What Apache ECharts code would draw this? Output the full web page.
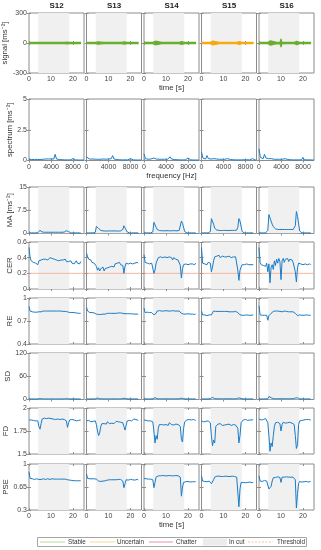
<!DOCTYPE html>
<html><head><meta charset="utf-8">
<script src="https://cdn.jsdelivr.net/npm/echarts@6/dist/echarts.min.js"></script>
<style>html,body{margin:0;padding:0;background:#fff}#c{width:321px;height:550px}</style>
</head><body><div id="c"></div>
<script>
// ---------------- DATA ----------------
const panelNames = ['S12','S13','S14','S15','S16'];
const panelState = ['Stable','Stable','Stable','Uncertain','Stable'];
const legendNames = ['Stable','Uncertain','Chatter','In cut','Threshold'];
const cutRange = [4.2, 18.3];
const cerThreshold = 0.2;
const timeTicks = [0,10,20];
const freqTicks = [0,4000,8000];
const yTicksSignal = [-300,0,300];
const yTicksSpec = [0,2.5,5];
const yTicksMA = [0,7.5,15];
const yTicksCER = [0,0.2,0.4,0.6];
const yTicksRE = [0.4,0.7,1];
const yTicksSD = [0,60,120];
const yTicksFD = [1.5,1.75,2];
const yTicksPSE = [0.3,0.65,1];

const tSec = [0,0.5,1,1.5,2,2.5,3,3.5, 4,4.5,5,5.5,6,6.5,7,7.5, 8,8.5,9,9.5,10,10.5,11,11.5,
  12,12.5,13,13.5,14,14.5,15,15.5, 16,16.5,17,17.5,18,18.5,19,19.5, 20,20.5,21,21.5,22,22.5,23,23.5];
const freqHz = [0,250,500,750,1000,1250,1500,1750,2000,2250,2500,2750,3000,3250,3500,3750,4000,4250,4500,4750,
  5000,5250,5500,5750,6000,6250,6500,6750,7000,7250,7500,7750,8000,8250,8500,8750,9000,9250,9500,9750,10000];

// signal envelope (half-width, ms^-2)
const sigT = [0,2,4,4.4,4.8,5.2,5.6,6,8,9.6,10,10.4,12,16,16.8,17.2,17.6,18,18.4,20,22,23.7];
const sigS12 = [6,6,6,6,9,7,6,6,6,6,6,6,6,6,7,9,8,6,6,6,6,6];
const sigS13 = [6,6,6,8,14,12,8,7,6,6,6,6,6,6,9,12,11,7,6,6,6,6];
const sigS14 = [6,6,6,10,20,18,12,8,7,7,7,7,7,7,10,14,12,8,6,6,6,6];
const sigS15 = [6,6,6,12,22,20,14,9,7,7,7,7,7,7,11,15,13,8,6,6,6,6];
const sigS16 = [6,6,6,12,24,22,15,9,7,9,40,9,7,7,12,16,15,9,6,6,6,6];

const spS12 = [0.1,0.08,0.08,0.07,0.08,0.07,0.09,0.08,0.07,0.08,0.1,0.09,0.12,0.15,0.13,0.17,0.12,0.1,0.12,0.5,0.12,0.1,0.08,0.07,0.06,0.05,0.05,0.05,0.05,0.06,0.05,0.06,0.15,0.06,0.05,0.05,0.04,0.04,0.04,0.04,0.04];
const spS13 = [0.3,0.15,0.12,0.1,0.12,0.1,0.11,0.12,0.1,0.15,0.1,0.1,0.12,0.1,0.11,0.1,0.12,0.1,0.15,0.4,0.12,0.1,0.08,0.07,0.06,0.06,0.05,0.05,0.05,0.05,0.05,0.06,0.15,0.06,0.05,0.05,0.04,0.04,0.04,0.04,0.04];
const spS14 = [0.55,0.15,0.12,0.1,0.25,0.12,0.1,0.2,0.25,0.12,0.25,0.1,0.12,0.1,0.2,0.1,0.12,0.1,0.15,0.3,0.12,0.1,0.08,0.07,0.06,0.06,0.05,0.05,0.05,0.05,0.05,0.06,0.2,0.06,0.05,0.05,0.04,0.04,0.04,0.04,0.04];
const spS15 = [0.7,0.2,0.15,0.12,0.4,0.15,0.25,0.12,0.2,0.15,0.1,0.12,0.15,0.1,0.12,0.1,0.1,0.1,0.12,0.15,0.1,0.08,0.07,0.06,0.06,0.05,0.05,0.05,0.05,0.05,0.05,0.06,0.2,0.06,0.05,0.05,0.05,0.15,0.05,0.04,0.04];
const spS16 = [0.95,0.25,0.2,0.15,0.5,0.2,0.3,0.15,0.2,0.15,0.12,0.1,0.12,0.1,0.15,0.1,0.1,0.1,0.12,0.15,0.1,0.08,0.07,0.06,0.06,0.05,0.05,0.05,0.05,0.05,0.05,0.06,0.25,0.06,0.05,0.05,0.05,0.05,0.05,0.04,0.04];

const maS12 = [0.2,0.2,0.2,0.2,0.2,0.2,0.2,0.2, 0.3,0.8,1.0,0.7,0.5,0.45,0.4,0.4, 0.4,0.4,0.4,0.4,0.4,0.4,0.4,0.4,
  0.4,0.4,0.4,0.4,0.4,0.4,0.4,0.4, 0.45,0.6,0.9,1.0,0.6,0.3,0.2,0.2, 0.2,0.2,0.2,0.2,0.2,0.2,0.2,0.2];
const maS13 = [0.2,0.2,0.2,0.2,0.2,0.2,0.2,0.2, 0.4,2.3,2.0,1.6,1.2,1.0,0.9,0.85, 0.85,0.8,0.85,0.8,0.8,0.85,0.8,0.8,
  0.8,0.85,0.8,0.8,0.85,0.8,0.8,0.85, 0.9,1.3,2.5,1.8,2.2,0.5,0.25,0.2, 0.2,0.2,0.2,0.2,0.2,0.2,0.2,0.2];
const maS14 = [0.2,0.2,0.2,0.2,0.2,0.2,0.2,0.2, 0.5,3.6,3.2,2.0,1.3,1.0,0.95,0.9, 0.9,0.9,0.85,0.9,0.9,0.85,0.9,0.9,
  0.85,0.9,0.9,0.85,0.9,0.9,0.85,0.9, 1.0,1.6,4.0,3.3,3.0,0.6,0.25,0.2, 0.2,0.2,0.2,0.2,0.2,0.2,0.2,0.2];
const maS15 = [0.2,0.2,0.2,0.2,0.2,0.2,0.2,0.2, 0.6,4.8,4.2,3.0,1.7,1.3,1.1,1.0, 1.0,1.0,0.95,1.0,1.0,0.95,1.0,1.0,
  0.95,1.0,1.0,0.95,1.0,1.0,1.0,0.95, 1.1,2.0,4.8,4.0,3.5,0.6,0.25,0.2, 0.2,0.2,0.2,0.2,0.2,0.2,0.2,0.2];
const maS16 = [0.2,0.2,0.2,0.2,0.2,0.2,0.2,0.2, 1.0,6.1,5.5,4.0,3.0,2.2,1.8,1.5, 1.4,1.3,1.3,1.3,1.35,1.3,1.3,1.3,
  1.3,1.3,1.3,1.3,1.3,1.3,1.3,1.3, 1.4,2.5,7.1,5.5,5.0,0.8,0.25,0.2, 0.2,0.2,0.2,0.2,0.2,0.2,0.2,0.2];

const cerS12 = [0.53,0.40,0.36,0.35,0.34,0.36,0.33,0.35, 0.31,0.36,0.38,0.37,0.39,0.38,0.40,0.38, 0.39,0.37,0.39,0.40,0.38,0.39,0.37,0.38,
  0.39,0.37,0.38,0.36,0.38,0.37,0.35,0.37, 0.36,0.38,0.35,0.37,0.35,0.34,0.36,0.33, 0.35,0.32,0.34,0.36,0.33,0.35,0.32,0.35];
const cerS13 = [0.46,0.41,0.38,0.36,0.37,0.34,0.35,0.33, 0.34,0.29,0.24,0.27,0.23,0.26,0.24,0.28, 0.23,0.26,0.24,0.27,0.25,0.28,0.26,0.29,
  0.31,0.28,0.32,0.30,0.33,0.31,0.34,0.31, 0.33,0.30,0.20,0.29,0.33,0.35,0.32,0.34, 0.33,0.35,0.32,0.34,0.33,0.31,0.34,0.33];
const cerS14 = [0.44,0.34,0.35,0.33,0.34,0.32,0.34,0.33, 0.31,0.20,0.24,0.33,0.34,0.40,0.38,0.41, 0.39,0.40,0.38,0.41,0.39,0.40,0.38,0.41,
  0.39,0.40,0.37,0.40,0.39,0.38,0.40,0.37, 0.38,0.30,0.14,0.26,0.31,0.33,0.32,0.34, 0.31,0.33,0.32,0.34,0.32,0.33,0.31,0.33];
const cerS15 = [0.53,0.33,0.34,0.32,0.33,0.31,0.34,0.32, 0.33,0.22,0.28,0.36,0.41,0.40,0.42,0.41, 0.43,0.40,0.41,0.42,0.40,0.41,0.43,0.41,
  0.40,0.42,0.41,0.40,0.42,0.41,0.40,0.41, 0.39,0.24,0.11,0.24,0.28,0.31,0.29,0.31, 0.30,0.32,0.30,0.31,0.29,0.31,0.30,0.31];
const cerS16 = [0.53,0.34,0.31,0.32,0.30,0.31,0.29,0.33, 0.22,0.32,0.08,0.28,0.31,0.25,0.36,0.30, 0.38,0.33,0.39,0.35,0.12,0.36,0.39,0.34,
  0.38,0.36,0.39,0.35,0.38,0.36,0.37,0.34, 0.36,0.22,0.09,0.27,0.33,0.34,0.32,0.33, 0.31,0.33,0.32,0.34,0.31,0.33,0.32,0.31];

const reS12 = [0.89,0.83,0.82,0.82,0.82,0.815,0.82,0.815, 0.82,0.82,0.825,0.82,0.825,0.83,0.825,0.83, 0.825,0.83,0.825,0.83,0.825,0.83,0.825,0.83,
  0.825,0.83,0.825,0.83,0.825,0.83,0.825,0.825, 0.82,0.825,0.82,0.82,0.815,0.81,0.815,0.81, 0.805,0.81,0.80,0.805,0.80,0.80,0.795,0.80];
const reS13 = [0.88,0.83,0.81,0.81,0.815,0.81,0.81,0.805, 0.81,0.79,0.78,0.785,0.78,0.785,0.78,0.79, 0.785,0.79,0.795,0.80,0.795,0.80,0.805,0.80,
  0.805,0.80,0.805,0.80,0.81,0.805,0.80,0.805, 0.80,0.80,0.79,0.795,0.80,0.795,0.79,0.795, 0.79,0.795,0.79,0.79,0.795,0.79,0.79,0.79];
const reS14 = [0.87,0.81,0.81,0.815,0.81,0.81,0.815,0.81, 0.80,0.78,0.78,0.80,0.83,0.83,0.835,0.83, 0.83,0.835,0.83,0.83,0.835,0.83,0.83,0.835,
  0.83,0.83,0.835,0.83,0.83,0.835,0.83,0.83, 0.83,0.82,0.80,0.79,0.79,0.795,0.79,0.79, 0.795,0.79,0.79,0.785,0.79,0.79,0.785,0.79];
const reS15 = [0.83,0.78,0.775,0.78,0.775,0.77,0.775,0.78, 0.775,0.78,0.80,0.83,0.83,0.825,0.83,0.825, 0.83,0.825,0.82,0.825,0.83,0.825,0.82,0.825,
  0.825,0.82,0.825,0.82,0.825,0.82,0.82,0.825, 0.82,0.81,0.79,0.78,0.775,0.775,0.78,0.775, 0.775,0.78,0.775,0.775,0.78,0.775,0.775,0.78];
const reS16 = [0.90,0.78,0.77,0.775,0.77,0.775,0.77,0.775, 0.71,0.77,0.76,0.80,0.81,0.825,0.82,0.83, 0.825,0.83,0.82,0.825,0.83,0.82,0.825,0.83,
  0.82,0.825,0.83,0.82,0.825,0.82,0.825,0.82, 0.82,0.80,0.78,0.77,0.775,0.78,0.775,0.775, 0.78,0.775,0.775,0.78,0.775,0.775,0.77,0.775];

const sdS12 = [1.5,1.5,1.5,1.5,1.5,1.5,1.5,1.5, 1.6,2.5,2.2,1.8,1.6,1.5,1.5,1.5, 1.5,1.5,1.5,1.5,1.5,1.5,1.5,1.5,
  1.5,1.5,1.5,1.5,1.5,1.5,1.5,1.5, 1.5,1.8,2.3,2.0,1.6,1.5,1.5,1.5, 1.5,1.5,1.5,1.5,1.5,1.5,1.5,1.5];
const sdS13 = [1.5,1.5,1.5,1.5,1.5,1.5,1.5,1.5, 1.8,4.3,3.8,2.5,1.9,1.7,1.6,1.6, 1.6,1.6,1.6,1.6,1.6,1.6,1.6,1.6,
  1.6,1.6,1.6,1.6,1.6,1.6,1.6,1.6, 1.7,2.4,3.2,2.6,2.0,1.6,1.5,1.5, 1.5,1.5,1.5,1.5,1.5,1.5,1.5,1.5];
const sdS14 = [1.5,1.5,1.5,1.5,1.5,1.5,1.5,1.5, 2.0,5.2,4.6,3.0,2.1,1.8,1.7,1.7, 1.7,1.7,1.7,1.7,1.7,1.7,1.7,1.7,
  1.7,1.7,1.7,1.7,1.7,1.7,1.7,1.7, 1.8,2.6,3.4,2.8,2.2,1.6,1.5,1.5, 1.5,1.5,1.5,1.5,1.5,1.5,1.5,1.5];
const sdS15 = [1.5,1.5,1.5,1.5,1.5,1.5,1.5,1.5, 2.2,6.0,5.3,3.4,2.3,1.9,1.8,1.8, 1.8,1.8,1.8,1.8,1.8,1.8,1.8,1.8,
  1.8,1.8,1.8,1.8,1.8,1.8,1.8,1.8, 1.9,3.2,4.3,3.6,2.6,1.6,1.5,1.5, 1.5,1.5,1.5,1.5,1.5,1.5,1.5,1.5];
const sdS16 = [1.5,1.5,1.5,1.5,1.5,1.5,1.5,1.5, 2.5,7.8,7.0,4.5,3.0,2.2,2.0,1.9, 1.9,1.9,1.9,1.9,1.9,1.9,1.9,1.9,
  1.9,1.9,1.9,1.9,1.9,1.9,1.9,1.9, 2.0,3.8,5.2,4.5,3.2,1.7,1.5,1.5, 1.5,1.5,1.5,1.5,1.5,1.5,1.5,1.5];

const fdS12 = [1.87,1.86,1.87,1.855,1.865,1.87,1.86,1.865, 1.86,1.80,1.77,1.83,1.88,1.875,1.89,1.88, 1.885,1.875,1.89,1.88,1.885,1.89,1.88,1.885,
  1.875,1.89,1.88,1.885,1.875,1.89,1.88,1.885, 1.875,1.87,1.86,1.79,1.84,1.87,1.865,1.875, 1.86,1.87,1.865,1.86,1.875,1.865,1.86,1.87];
const fdS13 = [1.86,1.85,1.865,1.855,1.85,1.86,1.855,1.85, 1.86,1.82,1.75,1.70,1.73,1.80,1.83,1.845, 1.83,1.84,1.825,1.85,1.835,1.83,1.845,1.835,
  1.85,1.83,1.84,1.855,1.835,1.85,1.84,1.845, 1.84,1.84,1.80,1.76,1.81,1.86,1.87,1.865, 1.875,1.86,1.87,1.88,1.865,1.875,1.87,1.865];
const fdS14 = [1.87,1.86,1.865,1.855,1.86,1.865,1.86,1.855, 1.85,1.75,1.62,1.70,1.66,1.78,1.82,1.835, 1.82,1.83,1.815,1.835,1.82,1.83,1.81,1.84,
  1.825,1.82,1.835,1.815,1.83,1.825,1.84,1.82, 1.83,1.80,1.66,1.63,1.78,1.85,1.86,1.87, 1.865,1.875,1.86,1.87,1.865,1.875,1.87,1.865];
const fdS15 = [1.86,1.87,1.85,1.865,1.855,1.87,1.86,1.855, 1.84,1.70,1.59,1.65,1.62,1.80,1.82,1.825, 1.815,1.83,1.82,1.81,1.825,1.815,1.83,1.82,
  1.815,1.825,1.82,1.81,1.83,1.82,1.825,1.815, 1.82,1.78,1.62,1.70,1.84,1.86,1.87,1.865, 1.875,1.87,1.865,1.875,1.87,1.86,1.87,1.875];
const fdS16 = [1.88,1.875,1.87,1.88,1.875,1.87,1.885,1.875, 1.84,1.70,1.53,1.62,1.58,1.70,1.80,1.84, 1.835,1.845,1.84,1.83,1.75,1.82,1.845,1.84,
  1.835,1.845,1.84,1.835,1.845,1.84,1.835,1.84, 1.82,1.70,1.56,1.60,1.82,1.86,1.87,1.865, 1.875,1.87,1.865,1.875,1.87,1.875,1.865,1.87];

const pseS12 = [0.88,0.78,0.77,0.775,0.77,0.765,0.77,0.775, 0.77,0.765,0.77,0.765,0.77,0.775,0.77,0.765, 0.77,0.775,0.77,0.765,0.77,0.775,0.77,0.77,
  0.765,0.77,0.775,0.77,0.765,0.77,0.775,0.77, 0.765,0.77,0.765,0.76,0.765,0.755,0.76,0.75, 0.755,0.745,0.75,0.745,0.74,0.745,0.74,0.745];
const pseS13 = [0.85,0.78,0.785,0.775,0.78,0.775,0.78,0.775, 0.78,0.77,0.745,0.74,0.745,0.735,0.745,0.74, 0.75,0.745,0.75,0.755,0.75,0.76,0.755,0.76,
  0.755,0.76,0.765,0.76,0.755,0.765,0.76,0.765, 0.76,0.74,0.64,0.70,0.76,0.765,0.755,0.76, 0.765,0.755,0.76,0.765,0.755,0.76,0.765,0.76];
const pseS14 = [0.78,0.77,0.775,0.765,0.77,0.775,0.77,0.765, 0.76,0.64,0.72,0.80,0.82,0.82,0.825,0.82, 0.82,0.825,0.82,0.82,0.825,0.82,0.82,0.825,
  0.82,0.82,0.825,0.82,0.82,0.825,0.82,0.82, 0.81,0.80,0.51,0.65,0.72,0.735,0.73,0.725, 0.735,0.73,0.725,0.735,0.73,0.725,0.73,0.735];
const pseS15 = [0.82,0.74,0.75,0.735,0.745,0.73,0.75,0.74, 0.73,0.70,0.68,0.76,0.80,0.81,0.815,0.81, 0.815,0.81,0.81,0.815,0.81,0.81,0.815,0.81,
  0.81,0.815,0.81,0.81,0.815,0.81,0.81,0.805, 0.80,0.78,0.35,0.62,0.72,0.73,0.72,0.725, 0.715,0.725,0.72,0.715,0.725,0.72,0.715,0.72];
const pseS16 = [0.82,0.74,0.745,0.735,0.74,0.75,0.735,0.74, 0.72,0.62,0.59,0.66,0.74,0.79,0.80,0.795, 0.80,0.805,0.80,0.795,0.72,0.80,0.805,0.80,
  0.80,0.805,0.80,0.80,0.805,0.80,0.795,0.80, 0.79,0.76,0.33,0.55,0.70,0.735,0.73,0.725, 0.735,0.73,0.725,0.735,0.73,0.725,0.73,0.735];

// ---------------- STYLE / LAYOUT ----------------
const FONT = 'Liberation Sans, Arial, Helvetica, sans-serif';
const BLUE = '#1a7cc6';
const BOX = '#8c8c8c';
const LBL = '#444';
const CUT = '#f0f0f0';
const THR = '#f3a38a';
const stateColor = {Stable:'#6aae2e', Uncertain:'#f4aa10', Chatter:'#a2142f'};
const legendColor = {Stable:'#c4e2ae', Uncertain:'#f9e0a8', Chatter:'#eaa3b3', 'In cut':'#ebebeb', Threshold:'#f6bea6'};
const colLeft = [29, 86.5, 144, 201.5, 259];
const colW = 55;
const rowBox = [[13,60],[99,61.5],[187,46.5],[242,47],[298,46],[353,46.5],[408,46],[464,46]];

const rows = [
  {label:'signal [ms\u207B\u00B2]', min:-300, max:300, ticks:yTicksSignal, kind:'signal', xName:'time [s]', showX:true, data:[sigS12,sigS13,sigS14,sigS15,sigS16], gap:14},
  {label:'spectrum [ms\u207B\u00B2]', min:0, max:5, ticks:yTicksSpec, kind:'spec', xName:'frequency [Hz]', showX:true, data:[spS12,spS13,spS14,spS15,spS16], gap:14},
  {label:'MA [ms\u207B\u00B2]', min:0, max:15, ticks:yTicksMA, kind:'time', data:[maS12,maS13,maS14,maS15,maS16], gap:14},
  {label:'CER', min:0, max:0.6, ticks:yTicksCER, kind:'time', data:[cerS12,cerS13,cerS14,cerS15,cerS16], threshold:cerThreshold, gap:14},
  {label:'RE', min:0.4, max:1, ticks:yTicksRE, kind:'time', data:[reS12,reS13,reS14,reS15,reS16], gap:14},
  {label:'SD', min:0, max:120, ticks:yTicksSD, kind:'time', data:[sdS12,sdS13,sdS14,sdS15,sdS16], gap:14},
  {label:'FD', min:1.5, max:2, ticks:yTicksFD, kind:'time', data:[fdS12,fdS13,fdS14,fdS15,fdS16], gap:16},
  {label:'PSE', min:0.3, max:1, ticks:yTicksPSE, kind:'time', xName:'time [s]', showX:true, data:[pseS12,pseS13,pseS14,pseS15,pseS16], gap:16}
];

const fmt = v => String(v);
const grid = [], xAxis = [], yAxis = [], series = [];
rows.forEach((row, r) => {
  for (let c = 0; c < 5; c++) {
    const g = grid.length;
    grid.push({left: colLeft[c], top: rowBox[r][0], width: colW, height: rowBox[r][1],
      show: true, borderColor: BOX, borderWidth: 1, backgroundColor: 'transparent'});
    const isSpec = row.kind === 'spec';
    const xt = isSpec ? freqTicks : timeTicks;
    const xmax = isSpec ? 10000 : 25;
    const tickStyle = {inside: true, length: 2, lineStyle: {color: BOX, width: 1}};
    xAxis.push({gridIndex: g, type: 'value', min: 0, max: xmax, position: 'bottom',
      axisLine: {show: false}, splitLine: {show: false},
      axisTick: Object.assign({customValues: xt}, tickStyle),
      axisLabel: {show: !!row.showX, customValues: xt, formatter: fmt, fontSize: 7, color: LBL, fontFamily: FONT, margin: 3},
      name: (c === 2 && row.xName) ? row.xName : '', nameLocation: 'middle', nameGap: 11,
      nameTextStyle: {fontSize: 7.8, color: '#333', fontFamily: FONT, verticalAlign: 'top'}});
    xAxis.push({gridIndex: g, type: 'value', min: 0, max: xmax, position: 'top',
      axisLine: {show: false}, splitLine: {show: false},
      axisTick: Object.assign({customValues: xt}, tickStyle), axisLabel: {show: false}});
    yAxis.push({gridIndex: g, type: 'value', min: row.min, max: row.max, position: 'left',
      axisLine: {show: false}, splitLine: {show: false},
      axisTick: Object.assign({customValues: row.ticks}, tickStyle),
      axisLabel: {show: c === 0, customValues: row.ticks, formatter: fmt, fontSize: 7, color: LBL, fontFamily: FONT, margin: 2},
      name: c === 0 ? row.label : '', nameLocation: 'middle', nameRotate: 90, nameGap: row.gap,
      nameTextStyle: {fontSize: 7.8, color: '#333', fontFamily: FONT}});
    yAxis.push({gridIndex: g, type: 'value', min: row.min, max: row.max, position: 'right',
      axisLine: {show: false}, splitLine: {show: false},
      axisTick: Object.assign({customValues: row.ticks}, tickStyle), axisLabel: {show: false}});
    const xi = 2 * g, yi = 2 * g;
    if (!isSpec) {
      series.push({type: 'line', xAxisIndex: xi, yAxisIndex: yi, silent: true, symbol: 'none', z: 1,
        data: [[cutRange[0], row.max], [cutRange[1], row.max]],
        lineStyle: {opacity: 0, width: 0}, areaStyle: {color: CUT, opacity: 1, origin: 'start'}});
    }
    const arr = row.data[c];
    if (row.kind === 'signal') {
      const col = stateColor[panelState[c]];
      series.push({type: 'line', xAxisIndex: xi, yAxisIndex: yi, silent: true, symbol: 'none', z: 3,
        data: sigT.map((t, i) => [t, arr[i]]), lineStyle: {color: col, width: 1.2}, areaStyle: {color: col, opacity: 1}});
      series.push({type: 'line', xAxisIndex: xi, yAxisIndex: yi, silent: true, symbol: 'none', z: 3,
        data: sigT.map((t, i) => [t, -arr[i]]), lineStyle: {color: col, width: 1.2}, areaStyle: {color: col, opacity: 1}});
    } else if (isSpec) {
      series.push({type: 'line', xAxisIndex: xi, yAxisIndex: yi, silent: true, symbol: 'none', z: 3,
        data: freqHz.map((f, i) => [f, arr[i]]), lineStyle: {color: BLUE, width: 1}});
    } else {
      if (row.threshold !== undefined) {
        series.push({type: 'line', xAxisIndex: xi, yAxisIndex: yi, silent: true, symbol: 'none', z: 2,
          data: [[0, row.threshold], [25, row.threshold]], lineStyle: {color: THR, width: 0.8}});
      }
      series.push({type: 'line', xAxisIndex: xi, yAxisIndex: yi, silent: true, symbol: 'none', z: 3,
        data: tSec.map((t, i) => [t, arr[i]]), lineStyle: {color: BLUE, width: 1}});
    }
  }
});

// titles + legend
const graphic = [];
panelNames.forEach((n, c) => {
  graphic.push({type: 'text', x: colLeft[c] + colW / 2, y: 6, silent: true,
    style: {text: n, textAlign: 'center', textVerticalAlign: 'middle', font: 'bold 8px ' + FONT, fill: '#222'}});
});
const LY = 542;
graphic.push({type: 'rect', shape: {x: 37.5, y: 537.5, width: 269, height: 9}, silent: true,
  style: {fill: '#fff', stroke: '#a6a6a6', lineWidth: 1}});
const legX = [[40, 65, 68], [90, 115, 117], [149, 173, 176], [203, 227, 229], [248, 273, 277]];
legendNames.forEach((n, i) => {
  const [a, b, tx] = legX[i];
  if (n === 'In cut') {
    graphic.push({type: 'rect', silent: true, shape: {x: a, y: 538.5, width: b - a, height: 7}, style: {fill: legendColor[n]}});
  } else {
    graphic.push({type: 'line', silent: true, shape: {x1: a, y1: LY, x2: b, y2: LY},
      style: {stroke: legendColor[n], lineWidth: 1.2, lineDash: n === 'Threshold' ? [2, 1.5] : null}});
  }
  graphic.push({type: 'text', x: tx, y: LY, silent: true,
    style: {text: n, textAlign: 'left', textVerticalAlign: 'middle', font: '6.3px ' + FONT, fill: '#333'}});
});

const chart = echarts.init(document.getElementById('c'), null, {renderer: 'canvas'});
chart.setOption({animation: false, backgroundColor: '#fff', grid, xAxis, yAxis, series, graphic});
</script></body></html>
